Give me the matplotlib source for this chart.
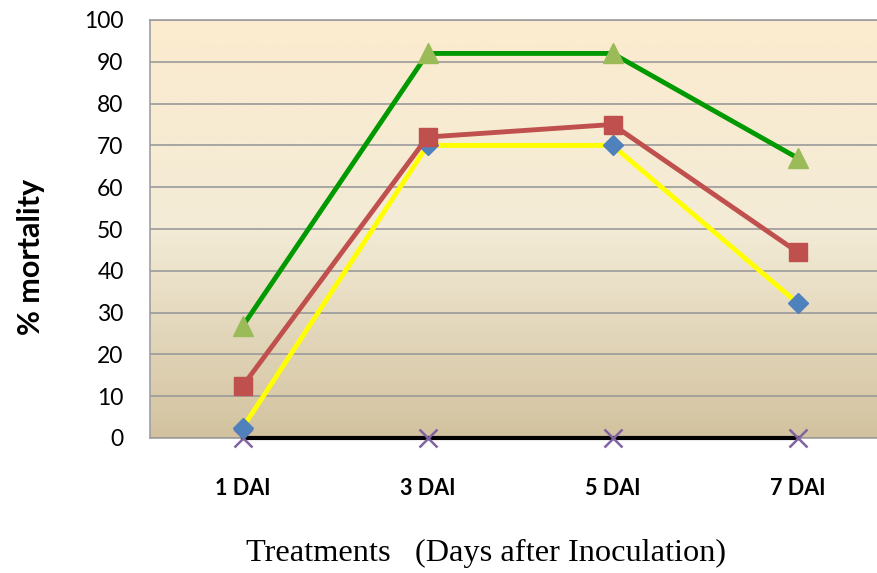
import numpy as np
import matplotlib.pyplot as plt
from matplotlib.colors import LinearSegmentedColormap

# -----------------------------------------------
# Data
# -----------------------------------------------
categories = ["1 DAI", "3 DAI", "5 DAI", "7 DAI"]
series_a = [26.7, 92, 92, 67]     # green line, triangles
series_b = [12.4, 72, 75, 44.5]   # red line, squares
series_c = [2.4, 70, 70, 32.3]    # yellow line, diamonds
series_d = [0, 0, 0, 0]           # black line, crosses
y_ticks = list(range(0, 101, 10))

# -----------------------------------------------
# Figure
# -----------------------------------------------
fig = plt.figure(figsize=(8.77, 5.73), dpi=100)
ax = fig.add_axes([150 / 877, 1 - 438 / 573, 727 / 877, 418 / 573])

# gradient background of the plot area
grad = LinearSegmentedColormap.from_list("bg", ["#D2C29F", "#F3EBD6", "#FCEBCF"])
ax.imshow(np.linspace(0, 1, 256).reshape(-1, 1), cmap=grad, aspect="auto",
          extent=[0, 1, 0, 1], transform=ax.transAxes, origin="lower", zorder=0)

x = np.arange(1, len(categories) + 1)

ax.plot(x, series_d, color="black", lw=3, marker="x", ms=13, mew=1.8,
        mec="#8064A2", zorder=3, clip_on=False)
ax.plot(x, series_c, color="#FFFF00", lw=3.5, marker="D", ms=10,
        mfc="#4F81BD", mec="#4F81BD", zorder=4, clip_on=False)
ax.plot(x, series_b, color="#C0504D", lw=3.5, marker="s", ms=13,
        mfc="#C0504D", mec="#C0504D", zorder=5, clip_on=False)
ax.plot(x, series_a, color="#009900", lw=3.5, marker="^", ms=15,
        mfc="#9BBB59", mec="#9BBB59", zorder=6, clip_on=False)

ax.set_xlim(0.5, 0.5 + 727 / 185)
ax.set_ylim(0, 100)
ax.set_yticks(y_ticks)
ax.set_yticklabels([str(v) for v in y_ticks], fontsize=16.5, family="Lato")
ax.set_xticks(x)
ax.set_xticklabels(categories, fontsize=15.5, fontweight="bold", family="Lato")
ax.tick_params(axis="x", length=0, pad=29)
ax.tick_params(axis="y", length=0, pad=19)

ax.yaxis.grid(True, color="#9A9A9A", lw=1.2)
ax.set_axisbelow(False)
for g in ax.get_ygridlines():
    g.set_zorder(1)

for side in ["left", "top", "bottom"]:
    ax.spines[side].set_color("#A0A0A0")
    ax.spines[side].set_linewidth(1.2)
ax.spines["right"].set_visible(False)

ax.set_ylabel("% mortality", fontsize=22, fontweight="bold", family="Lato")
ax.yaxis.set_label_coords(-105 / 727, (438 - 257) / 418)

fig.text(486 / 877, 1 - 553 / 573, "Treatments   (Days after Inoculation)",
         fontsize=23.3, family="Liberation Serif", ha="center", va="center")

fig.savefig("out.png", dpi=100)
